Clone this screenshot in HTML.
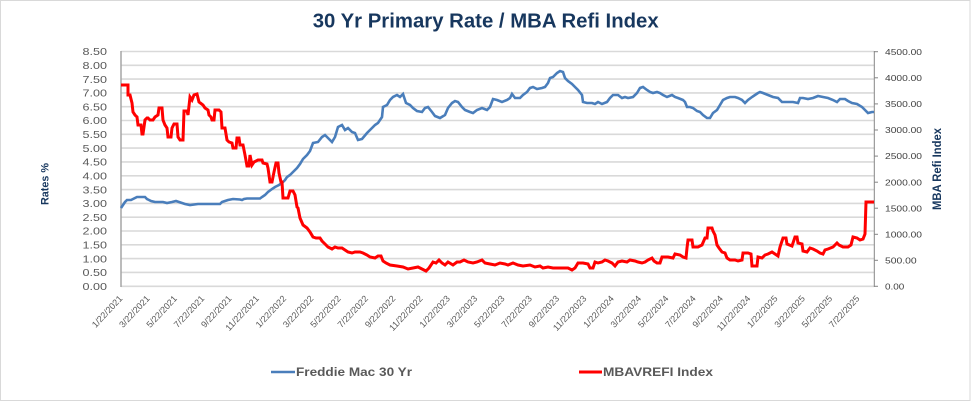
<!DOCTYPE html>
<html>
<head>
<meta charset="utf-8">
<style>
  html,body{margin:0;padding:0;background:#fff;}
  svg{display:block;}
  text{font-family:"Liberation Sans",Arial,sans-serif;}
</style>
</head>
<body>
<svg width="973" height="402" viewBox="0 0 973 402" xmlns="http://www.w3.org/2000/svg">
  <rect x="0.5" y="0.5" width="969.5" height="400" fill="#fff" stroke="#d9d9d9" stroke-width="1"/>

  <!-- Title -->
  <text x="312.7" y="27.5" font-size="20.5" font-weight="bold" fill="#17375e" textLength="346" lengthAdjust="spacingAndGlyphs">30 Yr Primary Rate / MBA Refi Index</text>

  <!-- gridlines -->
  <g stroke="#d9d9d9" stroke-width="1.6">
    <line x1="121" y1="51.5" x2="874" y2="51.5"/>
    <line x1="121" y1="65.3" x2="874" y2="65.3"/>
    <line x1="121" y1="79.1" x2="874" y2="79.1"/>
    <line x1="121" y1="92.9" x2="874" y2="92.9"/>
    <line x1="121" y1="106.7" x2="874" y2="106.7"/>
    <line x1="121" y1="120.5" x2="874" y2="120.5"/>
    <line x1="121" y1="134.3" x2="874" y2="134.3"/>
    <line x1="121" y1="148.1" x2="874" y2="148.1"/>
    <line x1="121" y1="161.9" x2="874" y2="161.9"/>
    <line x1="121" y1="175.8" x2="874" y2="175.8"/>
    <line x1="121" y1="189.6" x2="874" y2="189.6"/>
    <line x1="121" y1="203.4" x2="874" y2="203.4"/>
    <line x1="121" y1="217.2" x2="874" y2="217.2"/>
    <line x1="121" y1="231.0" x2="874" y2="231.0"/>
    <line x1="121" y1="244.8" x2="874" y2="244.8"/>
    <line x1="121" y1="258.6" x2="874" y2="258.6"/>
    <line x1="121" y1="272.4" x2="874" y2="272.4"/>
    <line x1="121" y1="286.3" x2="874" y2="286.3"/>
  </g>

  <!-- axes -->
  <line x1="121" y1="51" x2="121" y2="287" stroke="#a6a6a6" stroke-width="1.5"/>
  <line x1="874.3" y1="51" x2="874.3" y2="287" stroke="#868686" stroke-width="1"/>
  <g stroke="#868686" stroke-width="1">
    <line x1="874" y1="51.7" x2="878" y2="51.7"/>
    <line x1="874" y1="77.8" x2="878" y2="77.8"/>
    <line x1="874" y1="103.9" x2="878" y2="103.9"/>
    <line x1="874" y1="130.0" x2="878" y2="130.0"/>
    <line x1="874" y1="156.1" x2="878" y2="156.1"/>
    <line x1="874" y1="182.2" x2="878" y2="182.2"/>
    <line x1="874" y1="208.2" x2="878" y2="208.2"/>
    <line x1="874" y1="234.3" x2="878" y2="234.3"/>
    <line x1="874" y1="260.3" x2="878" y2="260.3"/>
    <line x1="874" y1="286.3" x2="878" y2="286.3"/>
  </g>

  <!-- left tick labels -->
  <g font-size="10.5" fill="#595959" text-anchor="end">
    <text x="107" y="55.2" textLength="24.5" lengthAdjust="spacingAndGlyphs">8.50</text>
    <text x="107" y="69.0" textLength="24.5" lengthAdjust="spacingAndGlyphs">8.00</text>
    <text x="107" y="82.8" textLength="24.5" lengthAdjust="spacingAndGlyphs">7.50</text>
    <text x="107" y="96.6" textLength="24.5" lengthAdjust="spacingAndGlyphs">7.00</text>
    <text x="107" y="110.4" textLength="24.5" lengthAdjust="spacingAndGlyphs">6.50</text>
    <text x="107" y="124.2" textLength="24.5" lengthAdjust="spacingAndGlyphs">6.00</text>
    <text x="107" y="138.0" textLength="24.5" lengthAdjust="spacingAndGlyphs">5.50</text>
    <text x="107" y="151.8" textLength="24.5" lengthAdjust="spacingAndGlyphs">5.00</text>
    <text x="107" y="165.6" textLength="24.5" lengthAdjust="spacingAndGlyphs">4.50</text>
    <text x="107" y="179.5" textLength="24.5" lengthAdjust="spacingAndGlyphs">4.00</text>
    <text x="107" y="193.3" textLength="24.5" lengthAdjust="spacingAndGlyphs">3.50</text>
    <text x="107" y="207.1" textLength="24.5" lengthAdjust="spacingAndGlyphs">3.00</text>
    <text x="107" y="220.9" textLength="24.5" lengthAdjust="spacingAndGlyphs">2.50</text>
    <text x="107" y="234.7" textLength="24.5" lengthAdjust="spacingAndGlyphs">2.00</text>
    <text x="107" y="248.5" textLength="24.5" lengthAdjust="spacingAndGlyphs">1.50</text>
    <text x="107" y="262.3" textLength="24.5" lengthAdjust="spacingAndGlyphs">1.00</text>
    <text x="107" y="276.1" textLength="24.5" lengthAdjust="spacingAndGlyphs">0.50</text>
    <text x="107" y="290.0" textLength="24.5" lengthAdjust="spacingAndGlyphs">0.00</text>
  </g>

  <!-- right tick labels -->
  <g font-size="8.5" fill="#404040">
    <text x="885" y="54.8" textLength="37" lengthAdjust="spacingAndGlyphs">4500.00</text>
    <text x="885" y="80.9" textLength="37" lengthAdjust="spacingAndGlyphs">4000.00</text>
    <text x="885" y="107.0" textLength="37" lengthAdjust="spacingAndGlyphs">3500.00</text>
    <text x="885" y="133.1" textLength="37" lengthAdjust="spacingAndGlyphs">3000.00</text>
    <text x="885" y="159.2" textLength="37" lengthAdjust="spacingAndGlyphs">2500.00</text>
    <text x="885" y="185.3" textLength="37" lengthAdjust="spacingAndGlyphs">2000.00</text>
    <text x="885" y="211.3" textLength="37" lengthAdjust="spacingAndGlyphs">1500.00</text>
    <text x="885" y="237.4" textLength="37" lengthAdjust="spacingAndGlyphs">1000.00</text>
    <text x="885" y="263.4" textLength="31.7" lengthAdjust="spacingAndGlyphs">500.00</text>
    <text x="885" y="289.4" textLength="19.3" lengthAdjust="spacingAndGlyphs">0.00</text>
  </g>

  <!-- axis titles -->
  <text transform="translate(48.5,184) rotate(-90)" text-anchor="middle" font-size="11" font-weight="bold" fill="#17375e" textLength="42" lengthAdjust="spacingAndGlyphs">Rates %</text>
  <text transform="translate(940.8,169) rotate(-90)" text-anchor="middle" font-size="11.5" font-weight="bold" fill="#17375e" textLength="82" lengthAdjust="spacingAndGlyphs">MBA Refi Index</text>

  <!-- x labels -->
  <g font-size="9" fill="#595959" text-anchor="end">
    <text transform="translate(123.0,299) rotate(-47)">1/22/2021</text>
    <text transform="translate(150.3,299) rotate(-47)">3/22/2021</text>
    <text transform="translate(177.6,299) rotate(-47)">5/22/2021</text>
    <text transform="translate(204.9,299) rotate(-47)">7/22/2021</text>
    <text transform="translate(232.2,299) rotate(-47)">9/22/2021</text>
    <text transform="translate(259.5,299) rotate(-47)">11/22/2021</text>
    <text transform="translate(286.8,299) rotate(-47)">1/22/2022</text>
    <text transform="translate(314.1,299) rotate(-47)">3/22/2022</text>
    <text transform="translate(341.4,299) rotate(-47)">5/22/2022</text>
    <text transform="translate(368.7,299) rotate(-47)">7/22/2022</text>
    <text transform="translate(396.0,299) rotate(-47)">9/22/2022</text>
    <text transform="translate(423.3,299) rotate(-47)">11/22/2022</text>
    <text transform="translate(450.6,299) rotate(-47)">1/22/2023</text>
    <text transform="translate(477.9,299) rotate(-47)">3/22/2023</text>
    <text transform="translate(505.2,299) rotate(-47)">5/22/2023</text>
    <text transform="translate(532.5,299) rotate(-47)">7/22/2023</text>
    <text transform="translate(559.8,299) rotate(-47)">9/22/2023</text>
    <text transform="translate(587.1,299) rotate(-47)">11/22/2023</text>
    <text transform="translate(614.4,299) rotate(-47)">1/22/2024</text>
    <text transform="translate(641.7,299) rotate(-47)">3/22/2024</text>
    <text transform="translate(669.0,299) rotate(-47)">5/22/2024</text>
    <text transform="translate(696.3,299) rotate(-47)">7/22/2024</text>
    <text transform="translate(723.6,299) rotate(-47)">9/22/2024</text>
    <text transform="translate(750.9,299) rotate(-47)">11/22/2024</text>
    <text transform="translate(778.2,299) rotate(-47)">1/22/2025</text>
    <text transform="translate(805.5,299) rotate(-47)">3/22/2025</text>
    <text transform="translate(832.8,299) rotate(-47)">5/22/2025</text>
    <text transform="translate(860.1,299) rotate(-47)">7/22/2025</text>
  </g>

  <!-- Freddie Mac series -->
  <polyline fill="none" stroke="#4a7ebb" stroke-width="2.6" stroke-linejoin="miter" points="121,208 123,205 125,202 127,200 131,200 133,199 135,198 137,197 145,197 147,199 149,200 151,201 155,202 163,202 167,203 172,202 176,201 179,202 182,203 185,204 190,205 198,204 220,204 222,202 225,201 228,200 233,199 240,199.5 242,200 244,199 247,198.5 260,198.5 262,197 265,195 268,192 272,189 275,187 279,185 282,183 285,180 287,177 290,175 293,172 297,168 300,164 303,159 307,155 310,151 313,143 318,142 322,137 325,135 328,138 332,142 335,137 338,127 342,125 345,130 348,128 352,132 355,133 358,140 362,139 367,133 372,128 375,125 378,123 382,117 383,107 387,105 390,100 393,97 397,95 400,97 403,94 406,103 410,105 413,108 417,111 422,112 425,108 428,107 432,112 435,116 440,118 445,115 448,108 452,103 455,101 458,102 462,107 465,110 470,112 473,113 477,110 482,108 487,110 490,107 493,99 497,100 502,102 507,100 510,98 512,94 515,98 520,98 523,95 527,92 530,88 533,87 537,89 542,88 545,87 548,83 550,78 553,77 557,73 560,71 563,72 565,78 568,81 572,84 575,87 578,90 582,95 583,102 587,103 592,103 595,104 598,102 602,104 607,102 610,98 613,95 618,95 622,98 625,97 628,98 633,97 637,93 640,88 643,87 647,90 650,92 653,93 657,92 660,93 663,95 667,97 672,95 675,97 678,98 683,100 685,102 687,107 690,107 693,108 697,111 700,112 703,115 707,118 710,118 713,113 717,110 720,105 723,100 727,98 730,97 735,97 738,98 742,100 745,103 748,100 752,97 755,95 758,93 760,92 763,93 768,95 773,97 778,98 782,102 787,102 793,102 798,103 800,98 803,98 808,99 813,98 818,96 823,97 828,98 833,100 837,102 840,99 845,99 848,101 852,103 857,104 862,107 865,110 868,113 872,112 874,112"/>

  <!-- MBA Refi series -->
  <polyline fill="none" stroke="#ff0000" stroke-width="3" stroke-linejoin="miter" points="121,85 128,85 128,95 130,95 132,103 133,112 135,115 137,117 138,125 141,125 142,134 143,134 145,120 147,118 148,118 150,120 153,120 155,117 158,115 159,108 162,108 163,120 165,125 167,128 168,137 171,137 172,128 174,124 177,124 178,137 180,140 183,140 184,111 187,111 188,115 190,97 192,100 194,95 197,94 199,102 203,105 205,108 208,110 209,115 211,117 212,120 214,120 215,110 219,110 221,112 222,128 225,128 227,140 229,142 232,143 233,148 236,148 237,138 239,138 240,145 243,145 245,155 247,166 249,166 250,155 252,165 254,162 258,160 262,160 263,163 267,164 268,168 270,182 272,182 274,172 276,163 278,163 279,173 281,182 282,182 283,198 288,198 290,191 293,191 295,195 297,207 298,208 300,218 303,225 307,228 310,232 313,237 316,238 320,238 322,241 325,244 328,247 332,249 335,247 338,248 342,248 345,250 348,252 352,253 355,252 360,252 363,253 367,255 370,257 375,258 378,256 381,256 383,261 386,263 390,265 397,266 403,267 408,269 413,268 418,267 422,269 426,271 429,268 433,262 436,263 439,260 442,263 445,265 448,262 453,265 457,262 460,262 464,260 468,262 473,263 477,262 482,260 485,263 490,264 495,265 500,263 505,264 508,265 513,263 518,265 523,266 530,265 535,267 540,266 543,268 548,267 553,268 562,268 568,268 572,270 575,268 578,263 583,263 588,264 590,268 593,268 595,262 598,263 602,262 605,260 608,261 612,263 615,266 618,262 622,261 627,262 630,260 635,261 638,262 642,263 645,262 648,260 652,258 654,261 657,263 660,263 662,257 668,257 673,258 675,254 680,255 683,257 686,258 687,248 688,240 692,240 693,247 698,247 702,245 705,238 707,238 708,228 712,228 713,231 715,235 717,245 719,248 722,252 725,253 727,258 730,260 735,260 738,261 742,260 743,253 748,253 751,254 752,266 757,266 758,257 762,258 765,255 768,254 772,252 775,254 778,256 780,247 783,238 786,238 787,244 792,246 795,237 797,237 798,243 802,244 803,251 807,252 810,248 813,249 817,251 820,253 823,254 825,250 828,249 833,247 837,243 839,245 843,247 848,247 851,245 853,237 857,238 860,240 863,239 865,234 866,202 870,202 874,202"/>

  <!-- legend -->
  <line x1="271" y1="372" x2="295" y2="372" stroke="#4a7ebb" stroke-width="2.6"/>
  <text x="296" y="376.2" font-size="11.5" font-weight="bold" fill="#595959" textLength="116" lengthAdjust="spacingAndGlyphs">Freddie Mac 30 Yr</text>
  <line x1="579" y1="372" x2="602" y2="372" stroke="#ff0000" stroke-width="3"/>
  <text x="603" y="376.2" font-size="11.5" font-weight="bold" fill="#595959" textLength="110" lengthAdjust="spacingAndGlyphs">MBAVREFI Index</text>
</svg>
</body>
</html>
